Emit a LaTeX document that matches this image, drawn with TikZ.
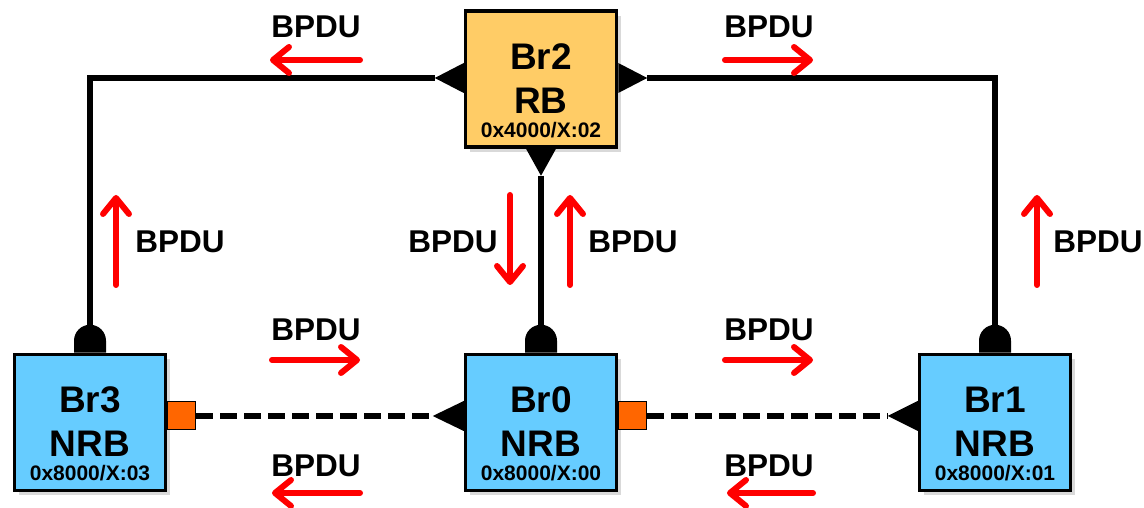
\documentclass[tikz,border=0pt]{standalone}
\usepackage{fontspec}
\setmainfont{Liberation Sans}
\usetikzlibrary{positioning, arrows.meta, shadows}
\definecolor{nrbblue}{HTML}{66CCFF}
\definecolor{rbgold}{HTML}{FFCC66}
\definecolor{blockport}{HTML}{FF6600}
\definecolor{bpdured}{HTML}{FF0000}

\tikzset{
  bridge/.style={draw=black, line width=3.5pt, minimum width=151pt,
    minimum height=136pt, inner sep=0pt,
    drop shadow={shadow xshift=4pt, shadow yshift=-5pt, opacity=0.3}},
  link/.style={line width=5.5pt},
  bpdu/.style={draw=bpdured, line width=6pt, line cap=round,
    -{Straight Barb[length=16pt, width=26pt, round]}},
  bpdulab/.style={font=\fontsize{31.5}{31.5}\selectfont\bfseries},
  brlab/.style={anchor=base, font=\fontsize{37}{37}\selectfont\bfseries},
  idlab/.style={anchor=base, font=\fontsize{21}{21}\selectfont\bfseries},
  blk/.style={draw=black, line width=1pt, fill=blockport,
    minimum size=28pt, inner sep=0pt, anchor=west},
}

\begin{document}
\begin{tikzpicture}[x=1pt, y=1pt]
  \useasboundingbox (0,0) rectangle (1144,508);
  % bridges: name / x / y / fill / label / role / priority / id
  \foreach \n/\x/\y/\c/\lab/\role/\prio/\port in
      {br2/541/429/rbgold/Br2/RB/4000/02, br3/90/85.5/nrbblue/Br3/NRB/8000/03,
       br0/541/85.5/nrbblue/Br0/NRB/8000/00, br1/995/85.5/nrbblue/Br1/NRB/8000/01}{
    \node[bridge, fill=\c] (\n) at (\x,\y) {};
    \node[brlab] (\n-a) at ([yshift=-60pt]\n.north) {\lab};
    \node[brlab] (\n-b) at ([yshift=-104pt]\n.north) {\role};
    \node[idlab] (\n-c) at ([yshift=-128pt]\n.north) {0x\prio/X:\port};
  }
  % designated ports on Br2
  \fill ([yshift=16pt]br2.west) -- ++(0,-30) -- ++(-29,15) coordinate (t2w) -- cycle;
  \fill ([yshift=16pt]br2.east) -- ++(0,-30) -- ++(29,15) coordinate (t2e) -- cycle;
  \fill ([xshift=-15pt]br2.south) -- ++(30,0) -- ++(-15,-27) coordinate (t2s) -- cycle;
  % designated ports on the ring
  \fill ([yshift=21.5pt]br0.west) -- ++(0,-30) -- ++(-31,15) coordinate (t0w) -- cycle;
  \fill ([yshift=21.5pt]br1.west) -- ++(0,-30) -- ++(-30,15) coordinate (t1w) -- cycle;
  % root ports
  \foreach \n in {br3,br0,br1}{
    \fill ([xshift=-16pt]\n.north) -- ++(0,12) arc[start angle=180, end angle=0, radius=16]
      -- ++(0,-12) -- cycle;
    \coordinate (\n-r) at ([yshift=27pt]\n.north);
  }
  % blocked ports
  \node[blk] (k3) at ([yshift=6.5pt]br3.east) {};
  \node[blk] (k0) at ([yshift=6.5pt]br0.east) {};
  % links
  \draw[link] (t2w) -| (br3-r);
  \draw[link] (t2e) -| (br1-r);
  \draw[link] (t2s) -- (br0-r);
  \draw[link, dash pattern=on 17pt off 7pt] (k3.east) -- (t0w);
  \draw[link, dash pattern=on 17pt off 7pt] (k0.east) -- (t1w);
  % BPDU flow
  \node[bpdulab] (m1) at (316,481) {BPDU};
  \draw[bpdu] (360,448) -- (270,448);
  \node[bpdulab] (m2) at (769,481) {BPDU};
  \draw[bpdu] (725,448) -- (813,448);
  \node[bpdulab] (m3) at (180,266) {BPDU};
  \draw[bpdu] (116,223) -- (116,313);
  \node[bpdulab] (m4) at (453,266) {BPDU};
  \draw[bpdu] (510,313) -- (510,223);
  \node[bpdulab] (m5) at (633,266) {BPDU};
  \draw[bpdu] (570,223) -- (570,313);
  \node[bpdulab] (m6) at (1098,266) {BPDU};
  \draw[bpdu] (1037,223) -- (1037,313);
  \node[bpdulab] (m7) at (316,178) {BPDU};
  \draw[bpdu] (272,148) -- (360,148);
  \node[bpdulab] (m8) at (769,178) {BPDU};
  \draw[bpdu] (725,148) -- (813,148);
  \node[bpdulab] (m9) at (316,42) {BPDU};
  \draw[bpdu] (360,15) -- (272,15);
  \node[bpdulab] (m10) at (769,42) {BPDU};
  \draw[bpdu] (813,15) -- (727,15);
\end{tikzpicture}
\end{document}
